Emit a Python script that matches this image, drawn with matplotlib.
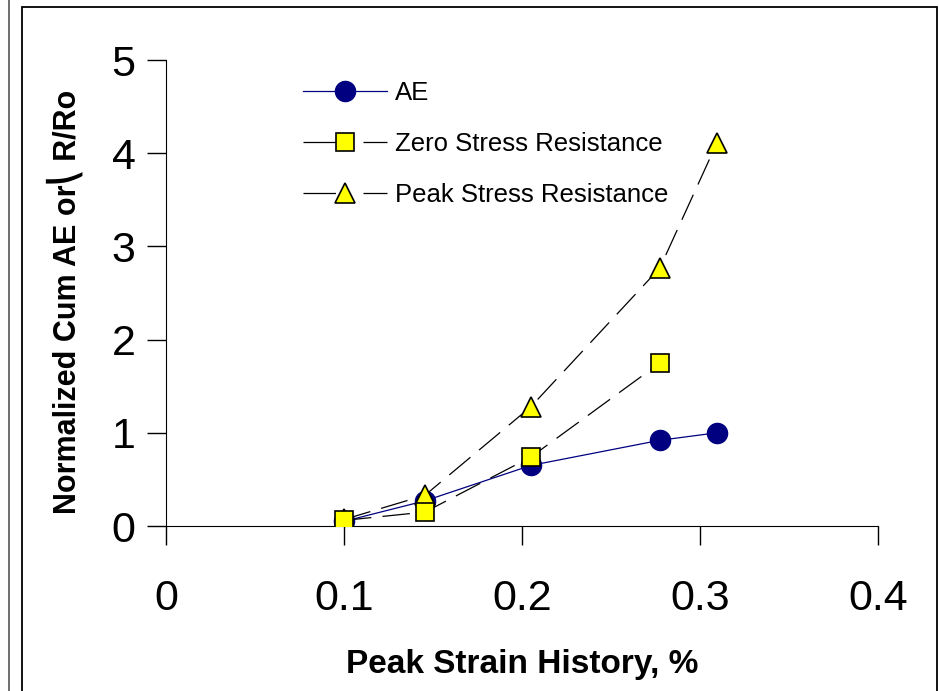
import matplotlib
matplotlib.use("Agg")
import matplotlib.pyplot as plt
from matplotlib.lines import Line2D
from matplotlib.patches import Rectangle

# data
strain_ae = [0.100, 0.1455, 0.205, 0.2775, 0.3095]
cum_ae = [0.05, 0.27, 0.65, 0.92, 1.00]

strain_zero = [0.100, 0.1455, 0.205, 0.2775]
zero_stress = [0.06, 0.15, 0.74, 1.75]

strain_peak = [0.100, 0.1455, 0.205, 0.2775, 0.3095]
peak_stress = [0.07, 0.33, 1.28, 2.77, 4.11]

x_ticks = [0, 0.1, 0.2, 0.3, 0.4]
x_tick_labels = ["0", "0.1", "0.2", "0.3", "0.4"]
y_ticks = [0, 1, 2, 3, 4, 5]

FONT = ["Liberation Sans", "DejaVu Sans"]
plt.rcParams["font.family"] = FONT

fig = plt.figure(figsize=(9.39, 6.91), dpi=100)
ax = fig.add_axes([166 / 939, 1 - 526 / 691, 712 / 939, 466 / 691])

# frames from the surrounding document
fig.patches.append(Rectangle((22 / 939, -0.05), 915 / 939, 1.05 - 7 / 691,
                             transform=fig.transFigure, fill=False,
                             edgecolor="black", linewidth=1.3))
fig.lines.append(Line2D([8.5 / 939, 8.5 / 939], [0, 1], transform=fig.transFigure,
                        color="#555555", linewidth=1.2))

dash = (0, (22, 9))
ax.plot(strain_peak, peak_stress, color="black", linewidth=0.9, linestyle=dash,
        marker="^", markersize=15, markerfacecolor="#ffff00",
        markeredgecolor="black", markeredgewidth=1.2, zorder=3)
ax.plot(strain_zero, zero_stress, color="black", linewidth=0.9, linestyle=dash,
        marker="s", markersize=13.5, markerfacecolor="#ffff00",
        markeredgecolor="black", markeredgewidth=1.2, zorder=4)
ax.plot(strain_ae, cum_ae, color="#000080", linewidth=0.9,
        marker="o", markersize=14.5, markerfacecolor="#000080",
        markeredgecolor="#000080", zorder=2)

ax.set_xlim(0, 0.4)
ax.set_ylim(0, 5)
ax.set_xticks(x_ticks)
ax.set_xticklabels(x_tick_labels)
ax.set_yticks(y_ticks)
ax.tick_params(axis="both", direction="out", length=14, width=1, labelsize=31,
               colors="black")
ax.tick_params(axis="x", pad=24)
ax.tick_params(axis="y", pad=8)
ax.spines["top"].set_visible(False)
ax.spines["right"].set_visible(False)

ax.set_xlabel("Peak Strain History, %", fontsize=24, fontweight="bold", labelpad=22)
ax.set_ylabel("Normalized Cum AE or\u239d R/Ro", fontsize=22, fontweight="bold")
ax.yaxis.set_label_coords(-0.117, 0.48)

# legend drawn inside the plot area
handles = [
    Line2D([], [], color="#000080", linewidth=0.9, marker="o", markersize=14.5,
           markerfacecolor="#000080", markeredgecolor="#000080"),
    Line2D([], [], color="black", linewidth=0.9, linestyle=(0, (26, 22)), marker="s",
           markersize=13.5, markerfacecolor="#ffff00", markeredgecolor="black",
           markeredgewidth=1.2),
    Line2D([], [], color="black", linewidth=0.9, linestyle=(0, (26, 22)), marker="^",
           markersize=15, markerfacecolor="#ffff00", markeredgecolor="black",
           markeredgewidth=1.2),
]
labels = ["AE", "Zero Stress Resistance", "Peak Stress Resistance"]
ax.legend(handles, labels, loc="upper left", bbox_to_anchor=(0.192, 0.955),
          frameon=False, fontsize=18.5, handlelength=3.3, handletextpad=0.28,
          labelspacing=1.06, borderaxespad=0, borderpad=0)

fig.savefig("out.png", dpi=100)
